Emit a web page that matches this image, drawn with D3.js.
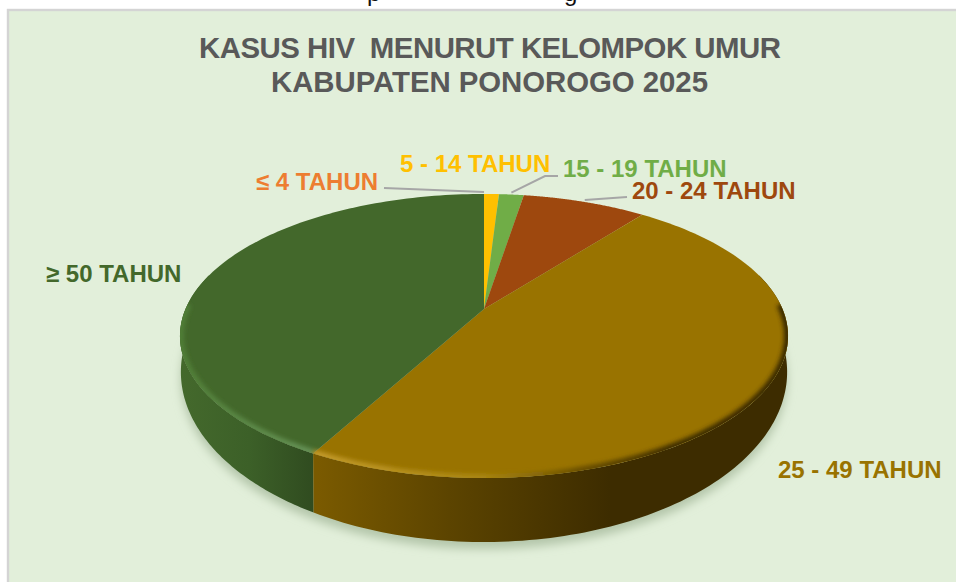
<!DOCTYPE html>
<html><head><meta charset="utf-8">
<script src="https://cdn.jsdelivr.net/npm/d3@7"></script>
<style>html,body{margin:0;padding:0;background:#fff;overflow:hidden}svg{display:block}</style>
</head><body><div id="c"></div>
<script>
const categories = ["≤ 4 TAHUN","5 - 14 TAHUN","15 - 19 TAHUN","20 - 24 TAHUN","25 - 49 TAHUN","≥ 50 TAHUN"];
const values = [0,3,5,25,150,133];
const colors = ["#ed7d31","#ffc000","#70ad47","#9e480e","#997300","#43682b"];
const titleLines = ["KASUS HIV  MENURUT KELOMPOK UMUR","KABUPATEN PONOROGO 2025"];

const W=956,H=582;
const F="'Liberation Sans',Arial,sans-serif";
const svg=d3.select("#c").append("svg").attr("width",W).attr("height",H);
const defs=svg.append("defs");
const blur=(id,s)=>defs.append("filter").attr("id",id).attr("filterUnits","userSpaceOnUse").attr("x",0).attr("y",0).attr("width",W).attr("height",H)
  .append("feGaussianBlur").attr("stdDeviation",s);
blur("b5",5);blur("b2",2.2);

// perspective disc
const cx=484,cy=309,A=136.9,B=298.5,k=0.19;
const midTop=336,midBot=372,stretch=170/142,S=0.997;
const topPt=t=>{const v=Math.sin(t),u=-Math.cos(t),d=1-k*u;return [cx+B*v/d,cy+A*u/d];};
const botPt=t=>{const p=topPt(t);return [cx+S*(p[0]-cx),midBot+stretch*(p[1]-midTop)];};
const samples=(a,b,f)=>d3.range(0,121).map(i=>f(a+(b-a)*i/120));
const line=d3.line();
const deg=Math.PI/180;

const pie=d3.pie().sort(null).value(d=>d)(values);
const arcs=pie.map((d,i)=>({...d,name:categories[i],color:colors[i],mid:(d.startAngle+d.endAngle)/2}));

// panel
svg.append("rect").attr("x",8).attr("y",10).attr("width",W).attr("height",H).attr("fill","#e2efda").attr("stroke","#d4d4d4").attr("stroke-width",2.4);
// cut-off line of the slide text above the panel
const clipTop=defs.append("clipPath").attr("id","ct");clipTop.append("rect").attr("width",W).attr("height",8);
svg.append("g").attr("clip-path","url(#ct)").selectAll("text").data([["p",367],["g",564]]).join("text")
  .attr("x",d=>d[1]).attr("y",1).attr("font-family","'Liberation Sans',Arial").attr("font-size",24).attr("fill","#111").text(d=>d[0]);

// titles
svg.selectAll("text.t").data(titleLines).join("text").attr("class","t")
  .attr("x",(d,i)=>i?271:199).attr("y",(d,i)=>58+i*34)
  .attr("font-family",F).attr("font-weight","bold").attr("font-size",29.4).attr("fill","#595959")
  .attr("style","white-space:pre").attr("textLength",(d,i)=>i?437:582).attr("lengthAdjust","spacing").text(d=>d);

// shadow
svg.append("path").attr("d",line(samples(0,2*Math.PI,botPt).map(p=>[p[0],p[1]+7]))+"Z")
  .attr("fill","#b4c6aa").attr("filter","url(#b5)");

// side wall gradients
const lg=(id,x1,x2,stops)=>{const g=defs.append("linearGradient").attr("id",id).attr("gradientUnits","userSpaceOnUse")
  .attr("x1",x1).attr("x2",x2).attr("y1",0).attr("y2",0);
  stops.forEach(s=>g.append("stop").attr("offset",s[0]).attr("stop-color",s[1]));};
lg("sG",180,318,[[0,"#44692c"],[.5,"#3c6028"],[1,"#2f4a1f"]]);
lg("sO",318,610,[[0,"#7a5a00"],[.45,"#5c4400"],[1,"#3d2c00"]]);
lg("rG",180,318,[[0,"#4f7d36"],[1,"#679358"]]);
lg("rO",318,790,[[0,"#c39a2a"],[.35,"#a98612"],[.55,"#6b5000"],[.75,"#3f2e00"],[1,"#3a2a00"]]);

const big=arcs[4],old=arcs[5];
const wall=(a,b)=>line(samples(a,b,topPt).concat(samples(a,b,botPt).reverse()))+"Z";
svg.append("path").attr("d",wall(old.startAngle,285*deg)).attr("fill","url(#sG)");
svg.append("path").attr("d",wall(75*deg,big.endAngle)).attr("fill","url(#sO)");

// top face slices
const slice=d=>line([[cx,cy]].concat(samples(d.startAngle,d.endAngle,topPt)))+"Z";
svg.selectAll("path.s").data(arcs.filter(d=>d.value>0)).join("path").attr("class","s")
  .attr("d",slice).attr("fill",d=>d.color);

// rim bevel, kept inside the top face
defs.append("clipPath").attr("id","face").append("path").attr("d",line(samples(0,2*Math.PI,topPt))+"Z");
const bevel=svg.append("g").attr("clip-path","url(#face)");
bevel.append("path").attr("d",line(samples(big.endAngle,272*deg,topPt))).attr("fill","none")
  .attr("stroke","url(#rG)").attr("stroke-width",8).attr("filter","url(#b2)");
bevel.append("path").attr("d",line(samples(88*deg,big.endAngle,topPt))).attr("fill","none")
  .attr("stroke","url(#rO)").attr("stroke-width",8).attr("filter","url(#b2)");

// leader lines
const rim=(name)=>topPt(arcs.find(d=>d.name===name).mid);
const leaders=[
  {name:categories[0],pts:[[384,188]]},
  {name:categories[2],pts:[[545,176],[558,176]]},
  {name:categories[3],pts:[[627,197]]}
];
svg.selectAll("path.l").data(leaders).join("path").attr("class","l")
  .attr("d",d=>{const p=rim(d.name);const q=[p[0],p[1]-2];return line([q].concat(d.pts));})
  .attr("fill","none").attr("stroke","#a6a6a6").attr("stroke-width",2);

// labels
const labelPos=[[256,190],[400,172],[563,177],[632,199],[778,478],[46,282]];
svg.selectAll("text.n").data(arcs).join("text").attr("class","n")
  .attr("x",(d,i)=>labelPos[i][0]).attr("y",(d,i)=>labelPos[i][1])
  .attr("font-family",F).attr("font-weight","bold").attr("font-size",24).attr("fill",d=>d.color).text(d=>d.name);
</script></body></html>
